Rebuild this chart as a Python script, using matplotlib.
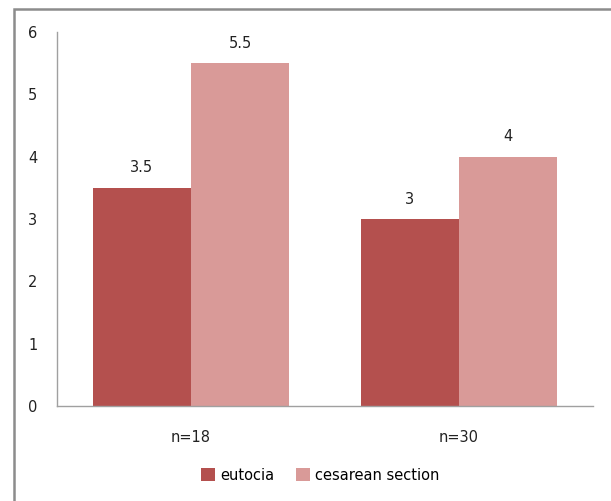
import numpy as np
import matplotlib.pyplot as plt
from matplotlib.patches import Rectangle

categories = ["n=18", "n=30"]
eutocia = [3.5, 3.0]
cesarean = [5.5, 4.0]
value_labels_eutocia = ["3.5", "3"]
value_labels_cesarean = ["5.5", "4"]

fig = plt.figure(figsize=(6.11, 5.01), dpi=100)
ax = fig.add_axes([57/611, 1 - 406/501, (593 - 57)/611, (406 - 32)/501])

x = np.arange(len(categories))
w = 0.366
b1 = ax.bar(x - w/2, eutocia, w, color="#B4504E", label="eutocia")
b2 = ax.bar(x + w/2, cesarean, w, color="#D99A98", label="cesarean section")

for bars, labs in ((b1, value_labels_eutocia), (b2, value_labels_cesarean)):
    for bar, lab in zip(bars, labs):
        ax.annotate(lab, (bar.get_x() + bar.get_width()/2, bar.get_height()),
                    xytext=(0, 9), textcoords="offset points",
                    ha="center", va="bottom", fontsize=10.5, color="#222222")

ax.set_xlim(-0.5, 1.5)
ax.set_ylim(0, 6)
ax.set_yticks(range(0, 7))
ax.set_xticks(x)
ax.set_xticklabels(categories)
ax.tick_params(axis="both", length=0, labelsize=10.5, colors="#222222")
ax.tick_params(axis="y", pad=14)
ax.tick_params(axis="x", pad=17)
for s in ("top", "right"):
    ax.spines[s].set_visible(False)
for s in ("left", "bottom"):
    ax.spines[s].set_color("#A0A0A0")
    ax.spines[s].set_linewidth(1)

leg = fig.legend(loc="center", bbox_to_anchor=(320/611, 1 - 475/501), ncol=2,
                 frameon=False, fontsize=10.5, handlelength=1.0, handleheight=1.0,
                 handletextpad=0.3, columnspacing=1.5)

# outer chart border (cropped at right and bottom)
fig.patches.append(Rectangle((14/611, -0.1), 1.2, 1 - 9/501 + 0.1,
                             transform=fig.transFigure, fill=False,
                             edgecolor="#8C8C8C", linewidth=1.8, clip_on=False))

fig.savefig("out.png", dpi=100)
